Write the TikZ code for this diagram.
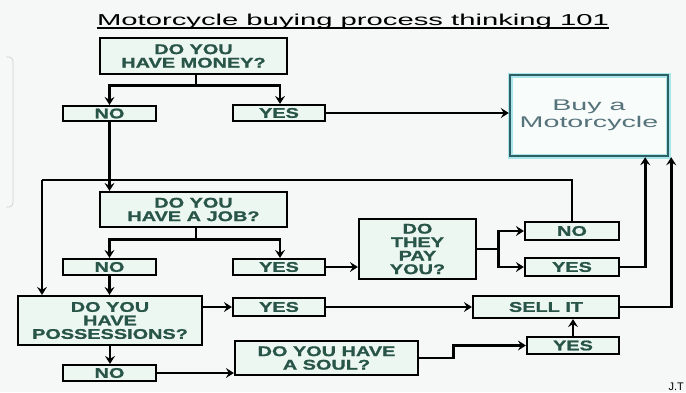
\documentclass[tikz,border=0pt]{standalone}
\usepackage{fontspec}
\usetikzlibrary{arrows.meta,calc}
\setmainfont{Liberation Sans}
\newfontfamily\boxfont{Liberation Sans}[FakeStretch=1.42,BoldFeatures={FakeBold=1.2}]
\newfontfamily\titlefont{Liberation Sans}[FakeStretch=1.85]
\definecolor{bg}{HTML}{F6F7F7}
\definecolor{txt}{HTML}{285548}
\definecolor{boxfill}{HTML}{EDF7F2}
\definecolor{buyline}{HTML}{2D5F63}
\definecolor{buyglow}{HTML}{A8E6EC}
\definecolor{buytxt}{HTML}{56727A}
\tikzset{
  qbox/.style={draw=black, line width=2.2pt, fill=boxfill, text=txt, inner sep=0pt,
    align=center, font=\boxfont\bfseries\fontsize{14}{13.5}\selectfont},
  conn/.style={line width=2.8pt, black},
  arr/.style={conn, -{Stealth[length=8pt,width=10pt,inset=3pt]}},
}
\begin{document}
\begin{tikzpicture}[x=1pt,y=-1pt]
\fill[bg] (0,0) rectangle (686,392);
\useasboundingbox (0,0) rectangle (686,392);
% faint screenshot artifact
\draw[gray!35, line width=0.8pt, rounded corners=4pt] (6,57) -- (13,57) -- (13,207) -- (6,207);
% title
\node[text=black, inner sep=0pt, anchor=base, font=\titlefont\fontsize{15.8}{17}\selectfont] (title) at (353,25) {Motorcycle buying process thinking 101};
\draw[line width=1.2pt] ($(title.base west)+(0,3)$) -- ($(title.base east)+(0,3)$);
% nodes
\node[qbox, minimum width=187pt, minimum height=36pt] (money) at (193.5,56) {DO YOU\\HAVE MONEY?};
\node[qbox, minimum width=93pt, minimum height=15pt] (no1) at (109.5,113.5) {NO};
\node[qbox, minimum width=92pt, minimum height=16pt] (yes1) at (279,113) {YES};
\node[draw=buyglow, line width=5pt, minimum width=158pt, minimum height=81pt, fill=white!60!boxfill] (buyg) at (589,115.5) {};
\node[draw=buyline, line width=2.4pt, minimum width=158pt, minimum height=81pt, text=buytxt, align=center,
  font=\titlefont\fontsize{15.5}{17}\selectfont] (buy) at (589,115.5) {Buy a\\Motorcycle};
\node[qbox, minimum width=187pt, minimum height=35pt] (job) at (193.5,209.5) {DO YOU\\HAVE A JOB?};
\node[qbox, minimum width=93pt, minimum height=16pt] (no2) at (109.5,267) {NO};
\node[qbox, minimum width=92pt, minimum height=16pt] (yes2) at (279,267) {YES};
\node[qbox, minimum width=117pt, minimum height=60pt] (pay) at (417.5,249) {DO\\THEY\\PAY\\YOU?};
\node[qbox, minimum width=94pt, minimum height=18pt] (no4) at (572,231) {NO};
\node[qbox, minimum width=94pt, minimum height=18pt] (yes4) at (572,267) {YES};
\node[qbox, minimum width=184pt, minimum height=49pt] (poss) at (110,320.5) {DO YOU\\HAVE\\POSSESSIONS?};
\node[qbox, minimum width=92pt, minimum height=18pt] (yes3) at (279,307) {YES};
\node[qbox, minimum width=146pt, minimum height=22pt] (sell) at (546,307) {SELL IT};
\node[qbox, minimum width=93pt, minimum height=16pt] (no3) at (109.5,373) {NO};
\node[qbox, minimum width=183pt, minimum height=34pt] (soul) at (326.5,358) {DO YOU HAVE\\A SOUL?};
\node[qbox, minimum width=92pt, minimum height=17pt] (yes5) at (573,345.5) {YES};
\node[anchor=south east, inner sep=0pt, font=\fontsize{11}{11}\selectfont] (jt) at (684,390.5) {J.T};
% connectors
\coordinate (m1) at ($(money.south)+(2.5,10)$);
\draw[conn] ($(money.south)+(2.5,0)$) -- (m1);
\draw[arr] (m1) -| (no1.north);
\draw[arr] (m1) -| ($(yes1.north)+(1,0)$);
\draw[arr] (yes1.east) -- (yes1.east -| buy.west);
\coordinate (lp) at (42,180);
\draw[conn] (no4.north) |- (lp);
\draw[arr] (lp) -- (lp |- poss.north);
\draw[arr] (no1.south) -- (no1.south |- job.north);
\coordinate (j1) at ($(job.south)+(2.5,11)$);
\draw[conn] ($(job.south)+(2.5,0)$) -- (j1);
\draw[arr] (j1) -| (no2.north);
\draw[arr] (j1) -| ($(yes2.north)+(1,0)$);
\draw[arr] (no2.south) -- (no2.south |- poss.north);
\draw[arr] (yes2.east) -- (yes2.east -| pay.west);
\coordinate (pj) at ($(pay.east)+(21,0)$);
\draw[conn] (pay.east) -- (pj);
\draw[arr] (pj) |- (no4.west);
\draw[arr] (pj) |- (yes4.west);
\draw[arr] (yes4.east) -| ($(buy.south east)+(-24,0)$);
\draw[arr] (sell.east) -| ($(buy.south east)+(2,0)$);
\draw[arr] (yes3.west -| poss.east) -- (yes3.west);
\draw[arr] (yes3.east) -- (sell.west);
\draw[arr] (poss.south) -- (poss.south |- no3.north);
\draw[arr] (no3.east) -- (no3.east -| soul.west);
\draw[arr] (soul.east) -- ++(34,0) |- (yes5.west);
\draw[arr] (yes5.north) -- (yes5.north |- sell.south);
\end{tikzpicture}
\end{document}
